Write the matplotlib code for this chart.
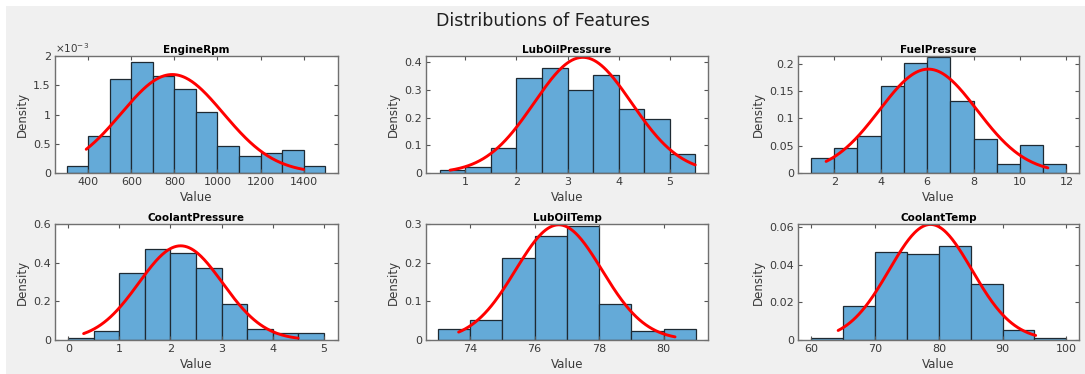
import numpy as np
import matplotlib.pyplot as plt
from matplotlib.patches import Rectangle
from matplotlib.ticker import FuncFormatter

# histogram data (bin edges + densities)
names = ['EngineRpm', 'LubOilPressure', 'FuelPressure',
         'CoolantPressure', 'LubOilTemp', 'CoolantTemp']

engine_edges = [300, 400, 500, 600, 700, 800, 900, 1000, 1100, 1200, 1300, 1400, 1500]
engine_dens = [0.12e-3, 0.63e-3, 1.61e-3, 1.90e-3, 1.66e-3, 1.44e-3, 1.04e-3,
               0.46e-3, 0.29e-3, 0.35e-3, 0.40e-3, 0.12e-3]

luboilp_edges = [0.5, 1.0, 1.5, 2.0, 2.5, 3.0, 3.5, 4.0, 4.5, 5.0, 5.5]
luboilp_dens = [0.012, 0.022, 0.092, 0.345, 0.378, 0.300, 0.355, 0.230, 0.195, 0.070]

fuel_edges = [1, 2, 3, 4, 5, 6, 7, 8, 9, 10, 11, 12]
fuel_dens = [0.028, 0.045, 0.068, 0.160, 0.201, 0.212, 0.132, 0.063, 0.017, 0.052, 0.017]

coolp_edges = [0, 0.5, 1.0, 1.5, 2.0, 2.5, 3.0, 3.5, 4.0, 4.5, 5.0]
coolp_dens = [0.010, 0.045, 0.345, 0.470, 0.450, 0.370, 0.185, 0.058, 0.035, 0.035]

luboilt_edges = [73, 74, 75, 76, 77, 78, 79, 80, 81]
luboilt_dens = [0.028, 0.052, 0.212, 0.270, 0.295, 0.093, 0.022, 0.028]

coolt_edges = [60, 65, 70, 75, 80, 85, 90, 95, 100]
coolt_dens = [0.001, 0.018, 0.047, 0.046, 0.050, 0.030, 0.0055, 0.001]

# fitted normal: mean, std, x range of the red curve
fit_mu = [790, 3.3, 6.05, 2.2, 76.75, 78.7]
fit_sigma = [237, 0.954, 2.1, 0.819, 1.339, 6.49]
fit_lo = [390, 0.7, 1.65, 0.3, 73.65, 64.2]
fit_hi = [1400, 5.5, 11.2, 4.5, 80.35, 95.2]

edges = [engine_edges, luboilp_edges, fuel_edges, coolp_edges, luboilt_edges, coolt_edges]
dens = [engine_dens, luboilp_dens, fuel_dens, coolp_dens, luboilt_dens, coolt_dens]

xlims = [(245, 1560), (0.23, 5.75), (0.44, 12.54), (-0.26, 5.28), (72.64, 81.37), (57.9, 102)]
ylims = [(0, 2e-3), (0, 0.423), (0, 0.214), (0, 0.6), (0, 0.3), (0, 0.0617)]
xticks = [[400, 600, 800, 1000, 1200, 1400], [1, 2, 3, 4, 5], [2, 4, 6, 8, 10, 12],
          [0, 1, 2, 3, 4, 5], [74, 76, 78, 80], [60, 70, 80, 90, 100]]
yticks = [[0, 0.5e-3, 1e-3, 1.5e-3, 2e-3], [0, 0.1, 0.2, 0.3, 0.4],
          [0, 0.05, 0.1, 0.15, 0.2], [0, 0.2, 0.4, 0.6], [0, 0.1, 0.2, 0.3],
          [0, 0.02, 0.04, 0.06]]
yscale = [1e3, 1, 1, 1, 1, 1]

W, H = 1085, 374
fig = plt.figure(figsize=(W / 100, H / 100), dpi=100)
fig.patch.set_facecolor('white')
fig.patches.append(Rectangle((6 / W, 0), 1 - 6 / W, 1 - 6 / H, transform=fig.transFigure,
                             facecolor='#f0f0f0', edgecolor='none', zorder=-10))

cols = [(55, 338), (426, 708), (798, 1079)]
rows = [(56, 173), (224, 340)]
txt = '#3a3a3a'

for i in range(6):
    r, c = divmod(i, 3)
    l, rr = cols[c]
    t, b = rows[r]
    ax = fig.add_axes([l / W, 1 - b / H, (rr - l) / W, (b - t) / H])
    e = np.array(edges[i], dtype=float)
    ax.bar(e[:-1], dens[i], width=np.diff(e), align='edge',
           color='#64aad8', edgecolor='#1e2a33', linewidth=0.9)
    x = np.linspace(fit_lo[i], fit_hi[i], 200)
    y = np.exp(-0.5 * ((x - fit_mu[i]) / fit_sigma[i]) ** 2) / (fit_sigma[i] * np.sqrt(2 * np.pi))
    ax.plot(x, y, color='#ff0000', lw=2.1, solid_capstyle='round')
    ax.set_xlim(xlims[i])
    ax.set_ylim(ylims[i])
    ax.set_xticks(xticks[i])
    ax.set_yticks(yticks[i])
    ax.xaxis.set_major_formatter(FuncFormatter(lambda v, p: '%g' % v))
    ax.yaxis.set_major_formatter(FuncFormatter(lambda v, p, s=yscale[i]: '%g' % round(v * s, 6)))
    ax.tick_params(direction='in', top=True, right=True, length=3, width=0.8,
                   labelsize=8, colors='#555555', labelcolor=txt, pad=3)
    for s in ax.spines.values():
        s.set_color('#707070')
        s.set_linewidth(1.0)
    ax.set_title(names[i], fontsize=7.5, fontweight='bold', pad=2)
    ax.set_xlabel('Value', fontsize=8.5, color=txt, labelpad=3)
    ax.set_ylabel('Density', fontsize=8.5, color=txt, labelpad=3)
    if i == 0:
        ax.text(0.0, 1.01, r'$\times10^{-3}$', transform=ax.transAxes, ha='left', va='bottom',
                fontsize=7.5, color=txt)

fig.text(543 / W, 1 - 21 / H, 'Distributions of Features', ha='center', va='center',
         fontsize=12.5, color='#202020')

fig.savefig('out.png', dpi=100)
